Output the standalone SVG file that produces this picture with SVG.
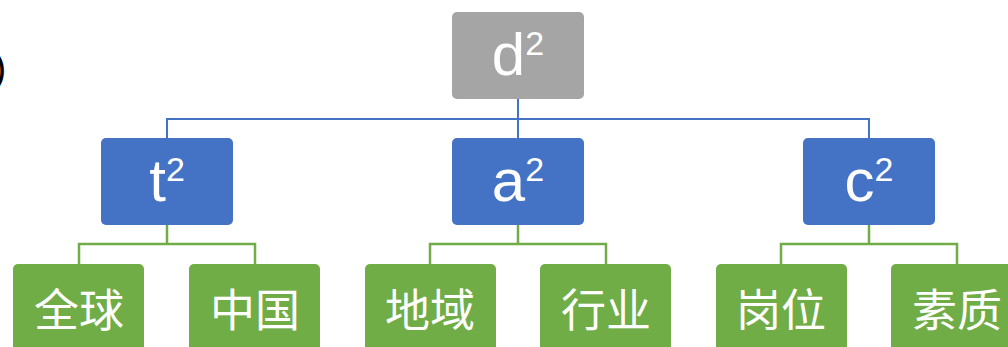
<svg xmlns="http://www.w3.org/2000/svg" width="1008" height="347" viewBox="0 0 1008 347">
<style>
.box{stroke:none}
.g{fill:#A5A5A5}
.b{fill:#4472C4}
.gr{fill:#70AD47}
.lt{font-family:"Liberation Sans",Arial,sans-serif;font-size:60px;fill:#fff;text-anchor:middle}
.sup{font-size:34px}
.cj{font-family:"Noto Sans CJK SC","Noto Sans",sans-serif;font-size:45px;fill:#fff;text-anchor:middle;dominant-baseline:central}
.cb{fill:none;stroke:#4472C4;stroke-width:2}
.cg{fill:none;stroke:#70AD47;stroke-width:2.5}
</style>
<rect width="1008" height="347" fill="#fff"/>
<text x="-7" y="82" font-family="Liberation Sans,Arial,sans-serif" font-size="40" fill="#000">)</text>
<g id="connectors">
<path class="cb" d="M518 99V119M167 138V119H869V138M518 119V138"/>
<path class="cg" d="M167 225V244M79 264V244H255V264"/>
<path class="cg" d="M518 225V244M430 264V244H606V264"/>
<path class="cg" d="M869 225V244M781 264V244H957V264"/>
</g>
<g id="d2"><rect class="box g" x="452" y="12" width="132" height="87" rx="5"/><text class="lt" x="518" y="75">d<tspan class="sup" dy="-20">2</tspan></text></g>
<g id="t2"><rect class="box b" x="101" y="138" width="132" height="87" rx="5"/><text class="lt" x="167" y="201">t<tspan class="sup" dy="-20">2</tspan></text></g>
<g id="a2"><rect class="box b" x="452" y="138" width="132" height="87" rx="5"/><text class="lt" x="518" y="201">a<tspan class="sup" dy="-20">2</tspan></text></g>
<g id="c2"><rect class="box b" x="803" y="138" width="132" height="87" rx="5"/><text class="lt" x="869" y="201">c<tspan class="sup" dy="-20">2</tspan></text></g>
<g id="n1"><rect class="box gr" x="13" y="264" width="131" height="87" rx="5"/><text class="cj" x="79" y="307">全球</text></g>
<g id="n2"><rect class="box gr" x="189" y="264" width="131" height="87" rx="5"/><text class="cj" x="255" y="307">中国</text></g>
<g id="n3"><rect class="box gr" x="365" y="264" width="131" height="87" rx="5"/><text class="cj" x="430" y="307">地域</text></g>
<g id="n4"><rect class="box gr" x="540" y="264" width="131" height="87" rx="5"/><text class="cj" x="606" y="307">行业</text></g>
<g id="n5"><rect class="box gr" x="716" y="264" width="131" height="87" rx="5"/><text class="cj" x="781" y="307">岗位</text></g>
<g id="n6"><rect class="box gr" x="891" y="264" width="131" height="87" rx="5"/><text class="cj" x="957" y="307">素质</text></g>
</svg>
